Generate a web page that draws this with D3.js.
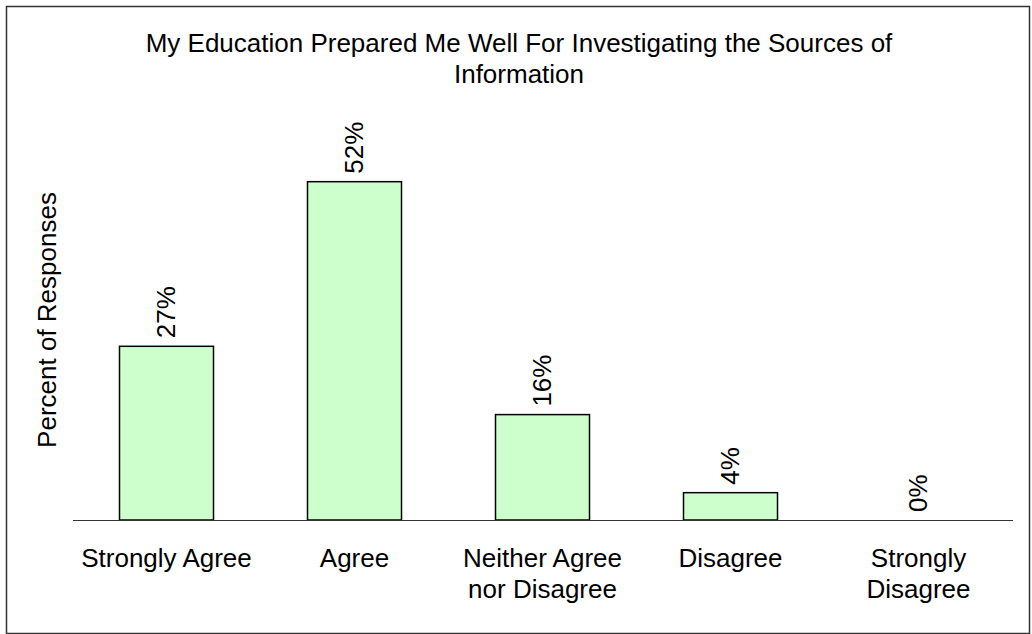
<!DOCTYPE html>
<html>
<head>
<meta charset="utf-8">
<script src="https://cdn.jsdelivr.net/npm/d3@7"></script>
<style>
  html, body { margin: 0; padding: 0; background: #fff; }
  svg { display: block; }
  text { font-family: "Liberation Sans", Arial, sans-serif; fill: #000; }
</style>
</head>
<body>
<svg id="chart" width="1032" height="634"></svg>
<script>
const titleLines = ["My Education Prepared Me Well For Investigating the Sources of", "Information"];
const yAxisLabel = "Percent of Responses";
const categories = ["Strongly Agree", "Agree", "Neither Agree nor Disagree", "Disagree", "Strongly Disagree"];
const categoryLines = [["Strongly Agree"], ["Agree"], ["Neither Agree", "nor Disagree"], ["Disagree"], ["Strongly", "Disagree"]];
const values = [26.7, 52.0, 16.2, 4.2, 0.0];
const valueLabels = ["27%", "52%", "16%", "4%", "0%"];

const svg = d3.select("#chart");
const FS = 26;

// outer border
svg.append("rect")
  .attr("x", 6.5).attr("y", 6.5)
  .attr("width", 1023).attr("height", 627)
  .attr("fill", "#fff").attr("stroke", "#333").attr("stroke-width", 1.5);

const x = d3.scaleBand().domain(categories).range([72.5, 1012.5]).paddingInner(0.5).paddingOuter(0.25);
const y = d3.scaleLinear().domain([0, 60]).range([520, 520 - 60 * 6.506]);

// title
const title = svg.append("text").attr("text-anchor", "middle").attr("font-size", FS);
titleLines.forEach((t, i) => {
  title.append("tspan").attr("x", 519).attr("y", 52 + i * 31).text(t);
});

// y label
svg.append("text")
  .attr("transform", `translate(56,320) rotate(-90)`)
  .attr("text-anchor", "middle")
  .attr("font-size", FS)
  .text(yAxisLabel);

// bars
svg.selectAll("rect.bar").data(categories).enter().append("rect")
  .attr("class", "bar")
  .attr("x", d => x(d))
  .attr("width", x.bandwidth())
  .attr("y", (d, i) => y(values[i]))
  .attr("height", (d, i) => y(0) - y(values[i]))
  .attr("fill", "#ccffcc")
  .attr("stroke", "#000")
  .attr("stroke-width", 1.5)
  .attr("display", (d, i) => values[i] > 0 ? null : "none");

// value labels (rotated)
svg.selectAll("text.val").data(categories).enter().append("text")
  .attr("class", "val")
  .attr("font-size", FS)
  .attr("transform", (d, i) => `translate(${x(d) + x.bandwidth() / 2 + 8.5},${y(values[i]) - 8}) rotate(-90)`)
  .attr("text-anchor", "start")
  .text((d, i) => valueLabels[i]);

// x axis
const axis = d3.axisBottom(x).tickSize(0).tickSizeOuter(0).tickFormat("");
const gx = svg.append("g").attr("transform", `translate(0,${y(0)})`).call(axis);
gx.select(".domain").attr("stroke", "#333").attr("stroke-width", 1.2);
gx.selectAll(".tick").each(function(d, i) {
  const t = d3.select(this).select("text");
  t.attr("font-size", FS).attr("fill", "#000").attr("y", 0).attr("dy", null)
    .attr("font-family", "Liberation Sans, Arial, sans-serif");
  categoryLines[i].forEach((line, j) => {
    t.append("tspan").attr("x", 0).attr("y", 47 + j * 31).text(line);
  });
});
</script>
</body>
</html>
